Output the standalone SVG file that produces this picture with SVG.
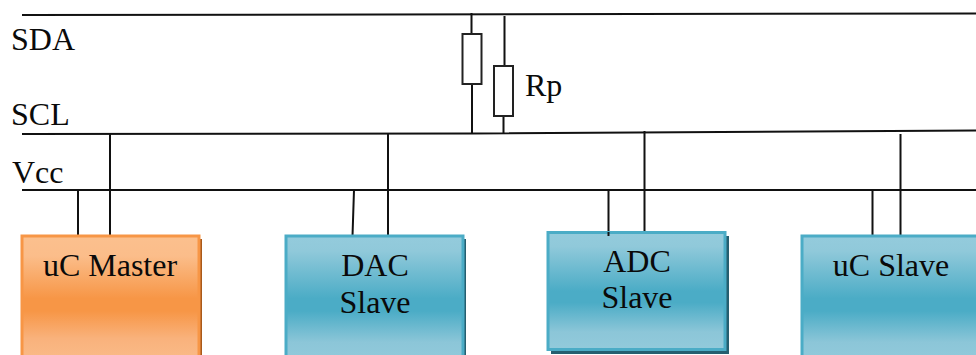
<svg xmlns="http://www.w3.org/2000/svg" width="976" height="355" viewBox="0 0 976 355">
<style>
text{font-family:"Liberation Serif","Times New Roman",serif;font-size:32px;fill:#0a0a0a}
.w{fill:none;stroke:#111;stroke-width:2}
.r{fill:#fff;stroke:#222;stroke-width:2}
.o{fill:url(#og);stroke:#f79646;stroke-width:3}
.b{fill:url(#bg);stroke:#4bacc6;stroke-width:3}
.os{fill:#a9591a}
.bs{fill:#255f70}
.m{text-anchor:middle}
</style>
<defs>
<linearGradient id="og" x1="0" y1="0" x2="0" y2="1"><stop offset="0" stop-color="#fbc08e"/><stop offset=".16" stop-color="#fbbd8a"/><stop offset=".5" stop-color="#f79646"/><stop offset=".6" stop-color="#f79646"/><stop offset=".82" stop-color="#f9b27c"/><stop offset="1" stop-color="#fabb88"/></linearGradient>
<linearGradient id="bg" x1="0" y1="0" x2="0" y2="1"><stop offset="0" stop-color="#94cbdc"/><stop offset=".12" stop-color="#90c9da"/><stop offset=".5" stop-color="#4bacc6"/><stop offset=".6" stop-color="#4bacc6"/><stop offset=".85" stop-color="#8cc6d8"/><stop offset="1" stop-color="#92cadb"/></linearGradient>
</defs>
<g id="connectors">
<path class="w" d="M22 15L976 13.500M22 134L472 133.500L976 130.500M22 190H976"/>
<path class="w" d="M471.500 13V34M472 84V133M504.500 16V66M503.500 116V134"/>
<path class="w" d="M78 190V236M110 134V236M354 190L352.500 236M388 133V236M608.500 190V236M644.500 131V232M872.500 190V236M900.500 134V236"/>
</g>
<g id="resistor-1"><rect class="r" x="462.500" y="34" width="19" height="50"/></g>
<g id="resistor-2"><rect class="r" x="494" y="66" width="19" height="50"/><text x="525" y="96">Rp</text></g>
<g id="label-sda"><text x="11" y="50">SDA</text></g>
<g id="label-scl"><text x="11" y="125">SCL</text></g>
<g id="label-vcc"><text x="12" y="183">Vcc</text></g>
<g id="uc-master"><rect class="os" x="25" y="239" width="177" height="116"/><rect class="o" x="22" y="236" width="177" height="125"/><text class="m" x="110" y="276">uC Master</text></g>
<g id="dac-slave"><rect class="bs" x="289" y="239" width="177" height="116"/><rect class="b" x="286" y="236" width="177" height="125"/><text class="m" x="375" y="276">DAC</text><text class="m" x="375" y="313">Slave</text></g>
<g id="adc-slave"><rect class="bs" x="551" y="236" width="178" height="118"/><rect class="b" x="548" y="232.500" width="177" height="117"/><path class="w" d="M608.500 232V236"/><text class="m" x="637" y="272">ADC</text><text class="m" x="637" y="308">Slave</text></g>
<g id="uc-slave"><rect class="b" x="802" y="236" width="177" height="125"/><text class="m" x="891" y="276">uC Slave</text></g>
</svg>
